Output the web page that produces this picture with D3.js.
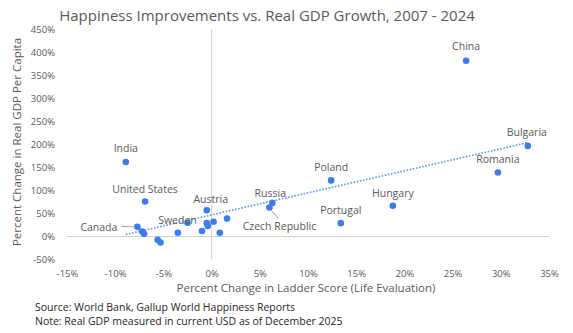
<!DOCTYPE html>
<html>
<head>
<meta charset="utf-8">
<script src="https://cdn.jsdelivr.net/npm/d3@7"></script>
<style>
  html, body { margin: 0; padding: 0; background: #fff; }
  svg { display: block; }
  text { font-family: "Open Sans", "DejaVu Sans", sans-serif; }
</style>
</head>
<body>
<svg id="chart" width="573" height="333"></svg>
<script>
// ---- Data ----
const countries = ["India","United States","Canada","","","","","","Sweden","","Austria","","","","","","Russia","Czech Republic","Poland","Portugal","Hungary","Romania","Bulgaria","China"];
const ladderChange = [-8.9,-6.9,-7.7,-7.2,-7.0,-5.6,-5.3,-3.5,-2.5,-1.0,-0.5,-0.5,-0.4,0.2,0.85,1.6,6.3,6.0,12.4,13.4,18.8,29.7,32.8,26.4];
const gdpChange    = [162,76,21,11,6,-7,-13,8,30,12,57,29,23,32,8,39,73,63,122,29,67,139,197,382];
const xTicks = [-15,-10,-5,0,5,10,15,20,25,30,35];
const yTicks = [-50,0,50,100,150,200,250,300,350,400,450];
const titleText = "Happiness Improvements vs. Real GDP Growth, 2007 - 2024";
const xTitle = "Percent Change in Ladder Score (Life Evaluation)";
const yTitle = "Percent Change in Real GDP Per Capita";
const footnotes = ["Source: World Bank, Gallup World Happiness Reports",
                   "Note: Real GDP measured in current USD as of December 2025"];

// ---- Layout ----
const svg = d3.select("#chart");
const x = d3.scaleLinear().domain([-15, 35]).range([67, 549]);
const y = d3.scaleLinear().domain([-50, 450]).range([259.5, 29.5]);
const textGray = "#595959";
const dotBlue = "#3b7ded";

// Title
svg.append("text").attr("x", 267).attr("y", 21).attr("text-anchor", "middle")
  .attr("font-size", 15).attr("fill", textGray).text(titleText);

// Zero lines (axes through origin)
svg.append("line").attr("x1", x(-15)).attr("x2", x(35)).attr("y1", y(0)).attr("y2", y(0))
  .attr("stroke", "#d0d0d0").attr("stroke-width", 1);
svg.append("line").attr("x1", x(0)).attr("x2", x(0)).attr("y1", y(450)).attr("y2", y(-50))
  .attr("stroke", "#d0d0d0").attr("stroke-width", 1);

// Y tick labels
const yAxis = d3.axisLeft(y).tickValues(yTicks).tickSize(0).tickFormat(d => d + "%");
const yg = svg.append("g").attr("transform", "translate(58,0)").call(yAxis);
yg.select(".domain").remove();
yg.selectAll("text").attr("font-size", 9.5).attr("fill", textGray)
  .attr("font-family", "'Open Sans', sans-serif");

// X tick labels
const xAxis = d3.axisBottom(x).tickValues(xTicks).tickSize(0).tickFormat(d => d + "%");
const xg = svg.append("g").attr("transform", "translate(0,267)").call(xAxis);
xg.select(".domain").remove();
xg.selectAll("text").attr("font-size", 9.5).attr("fill", textGray)
  .attr("font-family", "'Open Sans', sans-serif");

// Axis titles
svg.append("text").attr("x", 306).attr("y", 292).attr("text-anchor", "middle")
  .attr("font-size", 11.5).attr("fill", textGray).text(xTitle);
svg.append("text").attr("transform", "translate(21,142) rotate(-90)").attr("text-anchor", "middle")
  .attr("font-size", 11.5).attr("fill", textGray).text(yTitle);

// Trendline (least-squares linear fit of the points)
const n = ladderChange.length;
const mx = d3.mean(ladderChange), my = d3.mean(gdpChange);
let sxy = 0, sxx = 0;
for (let i = 0; i < n; i++) { sxy += (ladderChange[i]-mx)*(gdpChange[i]-my); sxx += (ladderChange[i]-mx)**2; }
const slope = sxy / sxx, intercept = my - slope * mx;
const xMin = d3.min(ladderChange), xMax = d3.max(ladderChange);
svg.append("line")
  .attr("x1", x(xMin)).attr("y1", y(intercept + slope * xMin))
  .attr("x2", x(xMax)).attr("y2", y(intercept + slope * xMax))
  .attr("stroke", "#5b94f0").attr("stroke-width", 1.6).attr("stroke-dasharray", "1.6 1.6");

// Points
const pts = ladderChange.map((v, i) => ({ name: countries[i], lx: v, gy: gdpChange[i] }));
svg.append("g").selectAll("circle").data(pts).join("circle")
  .attr("cx", d => x(d.lx)).attr("cy", d => y(d.gy)).attr("r", 3.3).attr("fill", dotBlue);

// Labels: placement offsets relative to the point
const place = {
  "India": [0, -13.5, "middle"],
  "United States": [0, -12.5, "middle"],
  "Canada": [-20, 0, "end"],
  "Sweden": [-10, -3, "middle"],
  "Austria": [4, -11, "middle"],
  "Russia": [-2, -9.5, "middle"],
  "Czech Republic": [10, 18, "middle"],
  "Poland": [0, -13.5, "middle"],
  "Portugal": [0, -13.5, "middle"],
  "Hungary": [0, -13, "middle"],
  "Romania": [0, -13.5, "middle"],
  "Bulgaria": [-1, -13.7, "middle"],
  "China": [0, -14.4, "middle"]
};
const labeled = pts.filter(d => d.name);
svg.append("g").selectAll("text").data(labeled).join("text")
  .attr("x", d => x(d.lx) + place[d.name][0])
  .attr("y", d => y(d.gy) + place[d.name][1])
  .attr("text-anchor", d => place[d.name][2])
  .attr("dominant-baseline", "central")
  .attr("font-size", 10.5).attr("fill", textGray).text(d => d.name);

// Leader lines
const canada = pts.find(d => d.name === "Canada");
svg.append("line").attr("x1", x(canada.lx) - 16).attr("x2", x(canada.lx) - 3)
  .attr("y1", y(canada.gy) - 0.5).attr("y2", y(canada.gy))
  .attr("stroke", "#a6a6a6").attr("stroke-width", 1);
const czech = pts.find(d => d.name === "Czech Republic");
svg.append("line").attr("x1", x(czech.lx) + 2).attr("y1", y(czech.gy) + 3)
  .attr("x2", x(czech.lx) + 9).attr("y2", y(czech.gy) + 11)
  .attr("stroke", "#a6a6a6").attr("stroke-width", 1);

// Footnotes
svg.append("g").selectAll("text").data(footnotes).join("text")
  .attr("x", 35).attr("y", (d, i) => 311 + i * 13.5)
  .attr("font-size", 10.5).attr("fill", "#262626").text(d => d);
</script>
</body>
</html>
